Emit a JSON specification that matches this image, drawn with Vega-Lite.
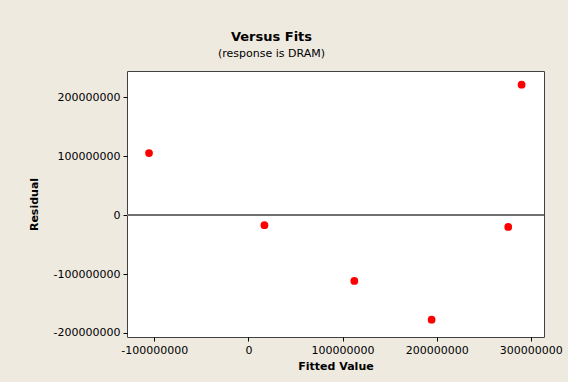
{
  "$schema": "https://vega.github.io/schema/vega-lite/v6.json",
  "autosize": "none",
  "padding": {"left": 127, "top": 71, "right": 24, "bottom": 45},
  "width": 417,
  "height": 266,
  "background": "#EEEAE0",
  "title": {
    "text": "Versus Fits",
    "subtitle": "(response is DRAM)",
    "anchor": "middle",
    "frame": "group",
    "dx": -64,
    "offset": 12,
    "font": "DejaVu Sans",
    "fontSize": 13,
    "fontWeight": "bold",
    "color": "#000000",
    "subtitleFont": "DejaVu Sans",
    "subtitleFontSize": 11,
    "subtitleColor": "#000000",
    "subtitlePadding": 4
  },
  "config": {
    "view": {"stroke": "#404040", "strokeWidth": 1, "fill": "#FFFFFF"},
    "axis": {
      "labelFont": "DejaVu Sans",
      "labelFontSize": 11,
      "labelColor": "#000000",
      "titleFont": "DejaVu Sans",
      "titleFontSize": 11,
      "titleFontWeight": "bold",
      "titleColor": "#000000",
      "tickColor": "#000000",
      "tickSize": 4,
      "domain": false,
      "grid": false
    }
  },
  "data": {
    "values": [
      {"fit": -105600000, "residual": 105500000},
      {"fit": 17000000, "residual": -17000000},
      {"fit": 112500000, "residual": -111800000},
      {"fit": 194600000, "residual": -177600000},
      {"fit": 276000000, "residual": -19900000},
      {"fit": 290200000, "residual": 221800000}
    ]
  },
  "layer": [
    {
      "mark": {"type": "rule", "color": "#707070", "strokeWidth": 1.5},
      "encoding": {"y": {"datum": 0, "type": "quantitative"}}
    },
    {
      "mark": {"type": "point", "filled": true, "color": "#FF0000", "size": 60, "opacity": 1},
      "encoding": {
        "x": {
          "field": "fit",
          "type": "quantitative",
          "title": "Fitted Value",
          "scale": {"domain": [-129000000, 314000000], "nice": false, "zero": false},
          "axis": {
            "values": [-100000000, 0, 100000000, 200000000, 300000000],
            "labelExpr": "datum.value < 0 ? '-' + format(-datum.value, 'd') : format(datum.value, 'd')",
            "labelPadding": 3,
            "titlePadding": 5
          }
        },
        "y": {
          "field": "residual",
          "type": "quantitative",
          "title": "Residual",
          "scale": {"domain": [-207000000, 245000000], "nice": false, "zero": false},
          "axis": {
            "values": [-200000000, -100000000, 0, 100000000, 200000000],
            "labelExpr": "datum.value < 0 ? '-' + format(-datum.value, 'd') : format(datum.value, 'd')",
            "labelPadding": 3,
            "titlePadding": 14
          }
        }
      }
    }
  ]
}
